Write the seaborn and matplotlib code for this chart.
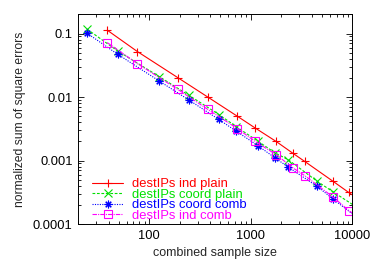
import matplotlib
matplotlib.use("Agg")
import matplotlib.pyplot as plt
import seaborn as sns
from matplotlib.ticker import FixedLocator, FixedFormatter, LogLocator, NullFormatter

# sample sizes (red/magenta share one grid, green/blue the other)
x_ind = [38.6, 76.5, 191, 378, 735, 1097, 1770, 2610, 3380, 6440, 9180, 12000]
x_coord = [24.5, 49, 126, 247, 485, 720, 1170, 1730, 2330, 4500, 6450, 13000]

ind_plain = [0.113, 0.052, 0.0202, 0.00996, 0.00499, 0.00327, 0.0020, 0.00129,
             0.00097, 0.00047, 0.000314, 0.000234]
coord_plain = [0.117, 0.053, 0.0209, 0.0106, 0.0053, 0.0034, 0.00202, 0.00132,
               0.00103, 0.00047, 0.00032, 0.000155]
coord_comb = [0.101, 0.0471, 0.0178, 0.00893, 0.00443, 0.00289, 0.00172, 0.0011,
              0.00079, 0.00039, 0.000247, 0.000104]
ind_comb = [0.0721, 0.0336, 0.0132, 0.00637, 0.00319, 0.00201, 0.00124, 0.00076,
            0.00058, 0.000266, 0.000163, 0.000122]

x_ticks = [100, 1000, 10000]
x_ticklabels = ["100", "1000", "10000"]
y_ticks = [0.0001, 0.001, 0.01, 0.1]
y_ticklabels = ["0.0001", "0.001", "0.01", "0.1"]

sns.set_style("ticks")
plt.rcParams["font.family"] = ["Liberation Sans", "DejaVu Sans"]
plt.rcParams["font.size"] = 9

fig = plt.figure(figsize=(3.74, 2.62), dpi=100)
ax = fig.add_axes([0.209, 0.145, 0.7335, 0.8])

series = [
    ("destIPs ind plain", x_ind, ind_plain, "#ff0000", "+", "-", "#ff0000"),
    ("destIPs coord plain", x_coord, coord_plain, "#00e000", "x", (0, (2.5, 1.5)), "#00e000"),
    ("destIPs coord comb", x_coord, coord_comb, "#0000ff", (8, 2, 0), (0, (1, 1.2)), "#0000ff"),
    ("destIPs ind comb", x_ind, ind_comb, "#ff00ff", "s", (0, (4, 1, 1, 1)), "none"),
]

for label, xs, ys, col, mk, ls, mfc in series:
    sns.lineplot(x=xs, y=ys, ax=ax, color=col, marker=mk, linestyle=ls,
                 linewidth=0.8, markersize=5.5, markeredgewidth=0.8,
                 markeredgecolor=col, markerfacecolor=mfc,
                 estimator=None, sort=False, label=label)

ax.set_xscale("log")
ax.set_yscale("log")
ax.set_xlim(20, 10000)
ax.set_ylim(0.0001, 0.2)

ax.xaxis.set_major_locator(FixedLocator(x_ticks))
ax.xaxis.set_major_formatter(FixedFormatter(x_ticklabels))
ax.yaxis.set_major_locator(FixedLocator(y_ticks))
ax.yaxis.set_major_formatter(FixedFormatter(y_ticklabels))
ax.xaxis.set_minor_locator(LogLocator(base=10, subs=range(2, 10)))
ax.yaxis.set_minor_locator(LogLocator(base=10, subs=range(2, 10)))
ax.xaxis.set_minor_formatter(NullFormatter())
ax.yaxis.set_minor_formatter(NullFormatter())

ax.tick_params(which="both", direction="in", top=True, right=True, width=0.6,
               colors="black", labelsize=9.3, pad=4)
ax.tick_params(which="major", length=4)
ax.tick_params(which="minor", length=2)
for s in ax.spines.values():
    s.set_linewidth(0.7)
    s.set_color("black")

ax.set_xlabel("combined sample size", fontsize=9, labelpad=4)
ax.set_ylabel("normalized sum of square errors", fontsize=8.7, labelpad=5)

ax.legend(loc="lower left", bbox_to_anchor=(0.012, -0.04), frameon=False,
          labelcolor="linecolor", fontsize=9.4, handlelength=2.4,
          handletextpad=0.7, labelspacing=-0.12, borderaxespad=0.4)

fig.savefig("out.png", dpi=100)
